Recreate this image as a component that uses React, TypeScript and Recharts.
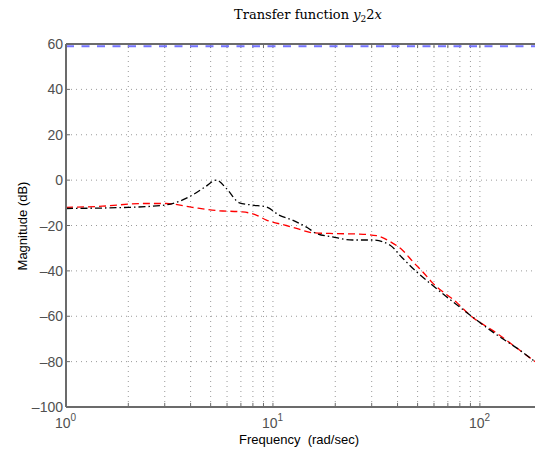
import React from "react";
import { LineChart, Line, XAxis, YAxis, ReferenceLine } from "recharts";

const freqBlack = [1, 2, 3, 4.08, 4.7, 5.33, 6.0, 6.88, 7.95, 9.3, 10.7, 12.4, 14.7, 16.2, 19.4, 24.3, 30.3, 36.7, 41.9, 49.5, 57.3, 69.2, 80, 92.5, 115.6, 156, 184.6];
const magBlack = [-12.5, -12, -11, -6.6, -3, 0, -4, -10, -11, -11.8, -15.4, -17.6, -21, -23.5, -25, -26.4, -26.4, -28.6, -34, -40.5, -45.4, -51.5, -56, -60.4, -67, -75, -80];

const freqRed = [1, 1.5, 2.33, 3.05, 4.08, 5.51, 7.12, 8.2, 9.3, 11.6, 13, 15.5, 18.8, 26.2, 31.7, 36.7, 42.4, 47.5, 53, 59.2, 77.4, 89.5, 120.8, 156, 184.6];
const magRed = [-12, -11.5, -10.3, -10.3, -12, -13.5, -14, -15.2, -17.6, -20, -21.3, -23.2, -23.5, -23.8, -24.5, -27, -31, -36, -40.5, -45.4, -54, -59.5, -67.5, -75, -80];

const freqBlue = [1, 184.6];
const magBlue = [59, 59];

const xMajorTicks = [1, 10, 100];
const xMinorTicks = [2, 3, 4, 5, 6, 7, 8, 9, 10, 20, 30, 40, 50, 60, 70, 80, 90, 100];
const yTicks = [-100, -80, -60, -40, -20, 0, 20, 40, 60];
const yGridTicks = [-80, -60, -40, -20, 0, 20, 40];
const xDomain = [1, 184.6];
const yDomain = [-100, 60];

// inward tick lengths expressed in data units (log-decade fraction / dB)
const X_TICK_LEN_DB = 1.8;
const Y_TICK_LEN_FACTOR = 1.045;

const toData = (fs: number[], ms: number[]) => fs.map((f, i) => ({ f, m: ms[i] }));
const blackData = toData(freqBlack, magBlack);
const redData = toData(freqRed, magRed);
const blueData = toData(freqBlue, magBlue);

const FONT = "'Liberation Sans', Arial, sans-serif";
const TICK_COLOR = "#505050";
const AXIS_COLOR = "#6b6b6b";

const XTick = (props: any) => {
  const { x, payload } = props;
  const exp = Math.round(Math.log10(payload.value));
  return (
    <text x={x - 11} y={428} textAnchor="start" fontFamily={FONT} fontSize={14} fill={TICK_COLOR}>
      10
      <tspan dy={-7} fontSize={10}>{exp}</tspan>
    </text>
  );
};

const YTick = (props: any) => {
  const { y, payload } = props;
  const v = payload.value;
  const s = v < 0 ? "\u2013" + Math.abs(v) : String(v);
  return (
    <text x={63} y={y + 5} textAnchor="end" fontFamily={FONT} fontSize={14} fill={TICK_COLOR}>
      {s}
    </text>
  );
};

export default function App() {
  return (
    <div style={{ position: "absolute", left: 0, top: 0, width: 535, height: 450, background: "#fff" }}>
      <LineChart width={535} height={450} margin={{ top: 44, right: 0, bottom: 0, left: 0 }}>
        <XAxis
          dataKey="f"
          type="number"
          scale="log"
          domain={xDomain}
          allowDataOverflow
          ticks={xMajorTicks}
          tick={<XTick />}
          tickLine={false}
          height={43}
          axisLine={{ stroke: AXIS_COLOR, strokeWidth: 2 }}
        />
        <YAxis
          type="number"
          domain={yDomain}
          ticks={yTicks}
          tick={<YTick />}
          tickLine={false}
          width={66}
          axisLine={{ stroke: AXIS_COLOR, strokeWidth: 2 }}
          allowDataOverflow
        />
        {xMinorTicks.map((v) => (
          <ReferenceLine key={"gx" + v} x={v} stroke="#9a9a9a" strokeDasharray="1 4" strokeWidth={1} />
        ))}
        {yGridTicks.map((v) => (
          <ReferenceLine key={"gy" + v} y={v} stroke="#9a9a9a" strokeDasharray="1 4" strokeWidth={1} />
        ))}
        {xMinorTicks.map((v) => (
          <ReferenceLine
            key={"tb" + v}
            segment={[{ x: v, y: yDomain[0] }, { x: v, y: yDomain[0] + X_TICK_LEN_DB }]}
            stroke={AXIS_COLOR}
            strokeWidth={1}
          />
        ))}
        {xMinorTicks.map((v) => (
          <ReferenceLine
            key={"tt" + v}
            segment={[{ x: v, y: yDomain[1] }, { x: v, y: yDomain[1] - X_TICK_LEN_DB }]}
            stroke={AXIS_COLOR}
            strokeWidth={1}
          />
        ))}
        {yTicks.map((v) => (
          <ReferenceLine
            key={"ty" + v}
            segment={[{ x: xDomain[0], y: v }, { x: xDomain[0] * Y_TICK_LEN_FACTOR, y: v }]}
            stroke={AXIS_COLOR}
            strokeWidth={1}
          />
        ))}
        <ReferenceLine y={yDomain[1]} stroke={AXIS_COLOR} strokeWidth={2} />
        <Line data={blueData} dataKey="m" type="linear" stroke="#7474ff" strokeWidth={2.2} strokeDasharray="8 7.5" dot={false} isAnimationActive={false} />
        <Line data={redData} dataKey="m" type="monotone" stroke="#ff0000" strokeWidth={1.3} strokeDasharray="7 4" dot={false} isAnimationActive={false} />
        <Line data={blackData} dataKey="m" type="monotone" stroke="#000000" strokeWidth={1.3} strokeDasharray="7 3 1.5 3" dot={false} isAnimationActive={false} />
      </LineChart>
      <svg width={535} height={450} style={{ position: "absolute", left: 0, top: 0, pointerEvents: "none" }}>
        <text x={308} y={19} textAnchor="middle" fontFamily="'DejaVu Serif', 'Liberation Serif', serif" fontSize={13} fill="#000">
          Transfer function <tspan fontStyle="italic">y</tspan>
          <tspan dy={3} fontSize={9}>2</tspan>
          <tspan dy={-3}>2</tspan>
          <tspan fontStyle="italic">x</tspan>
        </text>
        <text x={299} y={444} textAnchor="middle" fontFamily={FONT} fontSize={13} fill="#000" style={{ whiteSpace: "pre" }}>
          {"Frequency  (rad/sec)"}
        </text>
        <text x={0} y={0} transform="translate(27,226) rotate(-90)" textAnchor="middle" fontFamily={FONT} fontSize={13} fill="#000">
          Magnitude (dB)
        </text>
      </svg>
    </div>
  );
}
